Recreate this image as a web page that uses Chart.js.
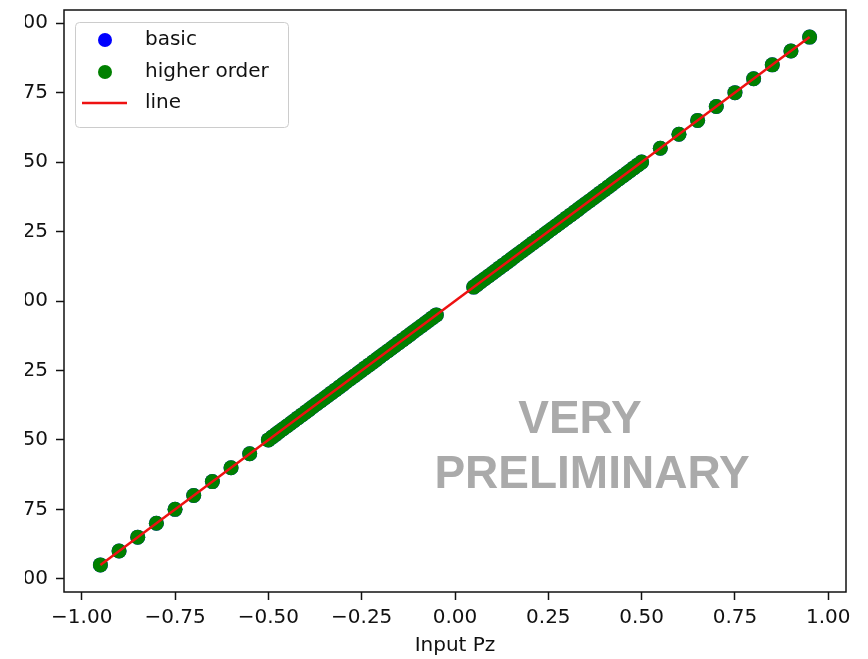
<!DOCTYPE html>
<html>
<head>
<meta charset="utf-8">
<script src="https://cdn.jsdelivr.net/npm/chart.js@4.4.1/dist/chart.umd.min.js"></script>
<style>
  body { margin: 0; background: #fff; }
  /* left strip of the figure is cropped away, labels are cut there */
  #wrap { position: absolute; left: 25px; top: 0; width: 843px; height: 659px; overflow: hidden; }
  #pz-chart { display: block; margin-left: -25px; }
</style>
</head>
<body>
<div id="wrap"><canvas id="pz-chart" width="868" height="659"></canvas></div>
<script>
// input Pz values that were fed through both reconstructions
var inputPz = [
  -0.95, -0.90, -0.85, -0.80, -0.75, -0.70, -0.65, -0.60, -0.55,
  -0.50, -0.49, -0.48, -0.47, -0.46, -0.45, -0.44, -0.43, -0.42, -0.41,
  -0.40, -0.39, -0.38, -0.37, -0.36, -0.35, -0.34, -0.33, -0.32, -0.31,
  -0.30, -0.29, -0.28, -0.27, -0.26, -0.25, -0.24, -0.23, -0.22, -0.21,
  -0.20, -0.19, -0.18, -0.17, -0.16, -0.15, -0.14, -0.13, -0.12, -0.11,
  -0.10, -0.09, -0.08, -0.07, -0.06, -0.05,
  0.05, 0.06, 0.07, 0.08, 0.09, 0.10, 0.11, 0.12, 0.13, 0.14,
  0.15, 0.16, 0.17, 0.18, 0.19, 0.20, 0.21, 0.22, 0.23, 0.24,
  0.25, 0.26, 0.27, 0.28, 0.29, 0.30, 0.31, 0.32, 0.33, 0.34,
  0.35, 0.36, 0.37, 0.38, 0.39, 0.40, 0.41, 0.42, 0.43, 0.44,
  0.45, 0.46, 0.47, 0.48, 0.49, 0.50,
  0.55, 0.60, 0.65, 0.70, 0.75, 0.80, 0.85, 0.90, 0.95
];
// reconstructed output (basic and higher order land on the same values)
var outputPz = [
  -0.95, -0.90, -0.85, -0.80, -0.75, -0.70, -0.65, -0.60, -0.55,
  -0.50, -0.49, -0.48, -0.47, -0.46, -0.45, -0.44, -0.43, -0.42, -0.41,
  -0.40, -0.39, -0.38, -0.37, -0.36, -0.35, -0.34, -0.33, -0.32, -0.31,
  -0.30, -0.29, -0.28, -0.27, -0.26, -0.25, -0.24, -0.23, -0.22, -0.21,
  -0.20, -0.19, -0.18, -0.17, -0.16, -0.15, -0.14, -0.13, -0.12, -0.11,
  -0.10, -0.09, -0.08, -0.07, -0.06, -0.05,
  0.05, 0.06, 0.07, 0.08, 0.09, 0.10, 0.11, 0.12, 0.13, 0.14,
  0.15, 0.16, 0.17, 0.18, 0.19, 0.20, 0.21, 0.22, 0.23, 0.24,
  0.25, 0.26, 0.27, 0.28, 0.29, 0.30, 0.31, 0.32, 0.33, 0.34,
  0.35, 0.36, 0.37, 0.38, 0.39, 0.40, 0.41, 0.42, 0.43, 0.44,
  0.45, 0.46, 0.47, 0.48, 0.49, 0.50,
  0.55, 0.60, 0.65, 0.70, 0.75, 0.80, 0.85, 0.90, 0.95
];
// reference line end points
var lineX = [-0.95, 0.95];
var lineY = [-0.95, 0.95];
// tick positions, same on both axes
var axisTicks = [-1.00, -0.75, -0.50, -0.25, 0.00, 0.25, 0.50, 0.75, 1.00];
var xTitle = 'Input Pz';
var stampLines = ['VERY', 'PRELIMINARY'];

function toPoints(xs, ys) {
  return xs.map((x, i) => ({ x: x, y: ys[i] }));
}
// matplotlib style labels with a real minus sign
function fmtTick(v) {
  return (v < 0 ? '\u2212' : '') + Math.abs(v).toFixed(2);
}
function setTicks(scale) {
  scale.ticks = axisTicks.map(v => ({ value: v }));
}

var FONT = "'DejaVu Sans', sans-serif";

// box round the plot, legend in the upper left corner and the stamp
const decorations = {
  id: 'decorations',
  afterDatasetsDraw(chart) {
    const ctx = chart.ctx;
    const a = chart.chartArea;
    ctx.save();

    // stamp
    ctx.fillStyle = '#aaaaaa';
    ctx.font = "bold 46px 'Liberation Sans', Arial, sans-serif";
    ctx.textAlign = 'center';
    ctx.textBaseline = 'alphabetic';
    ctx.fillText(stampLines[0], 580, 433);
    ctx.fillText(stampLines[1], 592, 488);

    // legend frame
    const lx = 75.5, ly = 22.5, lw = 213, lh = 105;
    ctx.beginPath();
    ctx.roundRect(lx, ly, lw, lh, 4);
    ctx.fillStyle = 'rgba(255,255,255,0.8)';
    ctx.fill();
    ctx.strokeStyle = '#cccccc';
    ctx.lineWidth = 1;
    ctx.stroke();

    const rows = [40, 72, 103];
    ctx.font = '20px ' + FONT;
    ctx.textAlign = 'left';
    ctx.textBaseline = 'middle';
    chart.data.datasets.forEach((ds, i) => {
      const y = rows[i];
      if (ds.showLine) {
        ctx.beginPath();
        ctx.moveTo(82, y);
        ctx.lineTo(127, y);
        ctx.strokeStyle = ds.borderColor;
        ctx.lineWidth = ds.borderWidth;
        ctx.stroke();
      } else {
        ctx.beginPath();
        ctx.arc(105, y, 7, 0, Math.PI * 2);
        ctx.fillStyle = ds.backgroundColor;
        ctx.fill();
      }
      ctx.fillStyle = '#111';
      ctx.fillText(ds.label, 145, y);
    });

    // axes frame
    ctx.strokeStyle = '#111';
    ctx.lineWidth = 1.5;
    ctx.strokeRect(a.left, a.top, a.right - a.left, a.bottom - a.top);
    ctx.restore();
  }
};

var ctx = document.getElementById('pz-chart').getContext('2d');
new Chart(ctx, {
  type: 'scatter',
  data: {
    datasets: [
      {
        label: 'basic',
        data: toPoints(inputPz, outputPz),
        backgroundColor: '#0000ff',
        pointRadius: 7.5,
        pointBorderWidth: 0,
        order: 2
      },
      {
        label: 'higher order',
        data: toPoints(inputPz, outputPz),
        backgroundColor: '#008000',
        pointRadius: 7.5,
        pointBorderWidth: 0,
        order: 1
      },
      {
        label: 'line',
        type: 'line',
        data: toPoints(lineX, lineY),
        borderColor: '#ee1111',
        borderWidth: 2.5,
        pointRadius: 0,
        showLine: true,
        fill: false,
        order: 0
      }
    ]
  },
  options: {
    responsive: false,
    animation: false,
    layout: { padding: { left: 0, right: 22, top: 10, bottom: 0 } },
    plugins: {
      legend: { display: false },
      tooltip: { enabled: false }
    },
    scales: {
      x: {
        type: 'linear',
        min: -1.0475,
        max: 1.0475,
        afterBuildTicks: setTicks,
        afterFit: s => { s.height = 67; s.paddingLeft = 0; s.paddingRight = 0; },
        border: { display: false },
        grid: { drawOnChartArea: false, drawTicks: true, tickLength: 8, tickWidth: 1.5, color: '#111' },
        ticks: { callback: fmtTick, maxRotation: 0, padding: 6, color: '#111', font: { family: FONT, size: 20 } },
        title: { display: true, text: xTitle, color: '#111', padding: { top: 0, bottom: 1 }, font: { family: FONT, size: 20 } }
      },
      y: {
        type: 'linear',
        min: -1.0475,
        max: 1.0475,
        afterBuildTicks: setTicks,
        afterFit: s => { s.width = 64; s.paddingTop = 0; s.paddingBottom = 0; },
        border: { display: false },
        grid: { drawOnChartArea: false, drawTicks: true, tickLength: 8, tickWidth: 1.5, color: '#111' },
        ticks: { callback: fmtTick, padding: 8, color: '#111', font: { family: FONT, size: 20 } }
      }
    }
  },
  plugins: [decorations]
});
</script>
</body>
</html>
